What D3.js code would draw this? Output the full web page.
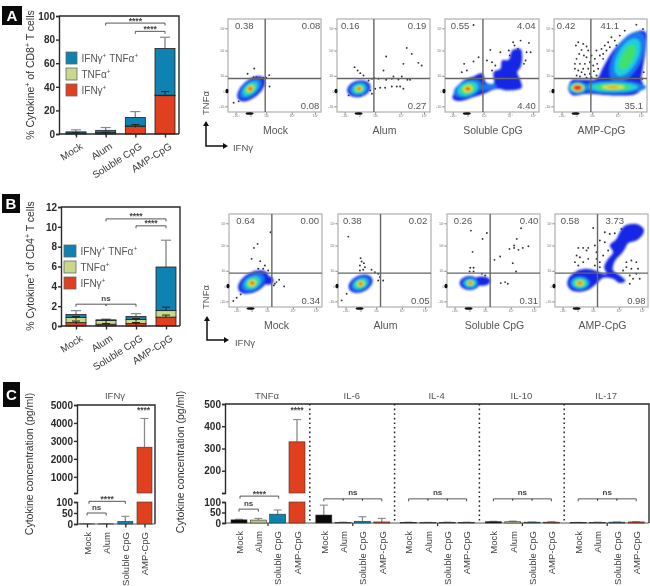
<!DOCTYPE html>
<html><head><meta charset="utf-8">
<script src="https://cdn.jsdelivr.net/npm/d3@7"></script>
<style>
html,body{margin:0;padding:0;background:#fff}
svg{display:block;font-family:"Liberation Sans",Arial,sans-serif;filter:blur(0.5px)}
</style></head><body>
<div id="chart"></div>
<script>
// ---------- bar data ----------
const categories = ["Mock","Alum","Soluble CpG","AMP-CpG"];
const cd8Ifn = [0.5,0.8,6.5,32.5];
const cd8Tnf = [0.3,0.3,0.3,0.4];
const cd8Both = [1,2,7.2,39.6];
const cd8IfnErr = [1,1.5,8,36];
const cd8BothErr = [3.5,5.5,19,82];
const cd4Ifn = [0.35,0.18,0.25,0.9];
const cd4Tnf = [0.5,0.37,0.4,0.65];
const cd4Both = [0.3,0.07,0.3,4.4];
const cd4IfnErr = [0.5,0.25,0.35,1.1];
const cd4TnfErr = [0.95,0.6,0.75,1.9];
const cd4BothErr = [1.55,0.7,1.25,8.65];
const ifnGroup = "IFNγ";
const ifnValues = [0.5,1,12,2650];
const ifnErr = [1,2,35,4250];
const cytokineGroups = ["TNFα","IL-6","IL-4","IL-10","IL-17"];
const cytokineValues = [[15,14,42,330],[38,2,8,5],[3,2,3,3],[6,6,4,4],[2,3,4,5]];
const cytokineErr = [[18,22,62,430],[85,4,30,22],[4,3,4,4],[8,9,5,6],[3,4,5,6]];
const flowTickLabels = ["-10³","0","10³","10⁴","10⁵"];
const flowTickX = [23,67,115,192,262];
const flowTickY = [17,63,109,185,252];

// ---------- flow cytometry data, in channel units 0-280 (x right, y up) ----------
const flowA = [
 {name:"Mock", q:[["0.38",49],["0.08",250],["0.08",247]], gate:[112,101],
  poly:[],
  layers:[[70,70,50,27,40,0],[68,70,40,21,40,1],[67,70,28,16,40,2],[67,70,19,12,40,3],[67,70,12,8,40,4],[67,70,8,6,30,5],[67,70,4,3.5,0,6]],
  dots:[[79,131],[59,115],[124,111],[125,77],[17,28],[32,32],[107,103],[115,103],[77,105],[85,105]]},
 {name:"Alum", q:[["0.16",40],["0.19",241],["0.27",241]], gate:[111,101],
  poly:[],
  layers:[[66,70,36,25,15,0],[66,70,29,20,15,1],[66,70,21,15,15,2],[66,70,15,11,15,3],[66,70,10,7,10,4],[66,70,7,5,0,5],[66,70,3.5,3,0,6]],
  dots:[[53,135],[62,125],[70,117],[80,110],[95,95],[105,100],[112,103],[125,100],[148,97],[165,100],[185,98],[212,97],[220,97],[195,107],[170,107],[140,125],[148,167],[210,193],[225,175],[200,145],[245,148],[255,140],[115,70],[130,73],[145,73],[165,77],[180,77],[190,77],[200,70],[100,65],[105,55],[70,50],[35,50]]},
 {name:"Soluble CpG", q:[["0.55",45],["4.04",242],["4.40",243]], gate:[113,101],
  poly:[[[23,40],[30,65],[55,95],[85,107],[110,117],[118,100],[120,90],[145,85],[145,120],[165,130],[170,155],[190,157],[200,185],[225,190],[230,165],[225,135],[215,120],[225,95],[228,73],[185,65],[155,70],[115,55],[85,45],[45,33]]],
  layers:[[68,70,44,24,20,1],[125,75,30,9,5,1],[68,70,32,20,20,2],[68,70,23,15,20,3],[68,70,14,10,15,4],[68,70,9,6,0,5],[68,70,5,3.5,0,6]],
  dots:[[85,262],[203,210],[207,200],[250,208],[225,215],[135,187],[165,180],[190,185],[193,170],[100,165],[85,152],[57,145],[50,120],[65,125],[125,155],[140,150],[150,140],[217,190],[255,180],[243,180],[235,145],[240,155],[140,125]]},
 {name:"AMP-CpG", q:[["0.42",36],["41.1",168],["35.1",240]], gate:[111,101],
  poly:[[[43,73],[53,95],[88,97],[128,100],[148,135],[178,185],[218,225],[258,245],[276,240],[278,205],[268,135],[263,100],[268,75],[248,55],[178,50],[98,55],[58,50],[46,60]]],
  layers:[[221,165,85,42,62,1],[221,165,62,30,62,2],[221,165,42,18,62,3],[178,75,100,19,0,1],[178,75,75,14,0,2],[178,75,55,11,0,3],[178,75,35,6,0,4],[178,75,18,3,0,5],
          [71,73,28,18,0,1],[71,73,25,15,0,2],[71,73,21,13,0,3],[71,73,17,11,0,4],[71,73,14,9,0,5],[71,73,10,6,0,6]],
  dots:[[73,210],[66,200],[88,205],[98,197],[83,187],[103,185],[76,175],[90,170],[68,160],[98,165],[113,170],[128,185],[143,190],[153,200],[163,210],[138,170],[123,160],[108,150],[78,145],[93,145],[63,130],[73,125],[88,130],[103,130],[118,140],[130,145],[148,160],[68,110],[78,107],[93,113],[108,115],[120,123],[133,130],[148,175],[168,195],[183,215],[198,230],[213,245],[248,263],[268,250],[188,200],[173,225],[158,185],[113,105],[98,103],[128,110],[63,145],[83,120],[258,120],[266,100],[263,85],[270,120]]}
];
const flowB = [
 {name:"Mock", q:[["0.64",50],["0.00",243],["0.34",246]], gate:[129,102],
  poly:[],
  layers:[[73,75,50,29,30,0],[118,80,16,13,0,0],[72,74,38,23,30,1],[71,73,26,18,30,2],[70,72,18,13,30,3],[70,72,12,9,20,4],[70,72,8,6,0,5],[70,72,4,3.5,0,6]],
  dots:[[125,225],[86,190],[75,178],[68,145],[94,138],[108,125],[103,115],[88,115],[118,110],[151,82],[138,70],[143,75],[135,65],[166,62],[13,18],[35,38],[23,28]]},
 {name:"Alum", q:[["0.38",43],["0.02",241],["0.05",248]], gate:[128,102],
  poly:[],
  layers:[[68,70,38,25,25,0],[68,70,31,20,25,1],[68,70,23,15,25,2],[68,70,16,11,20,3],[68,70,11,8,10,4],[68,70,7,5,0,5],[68,70,3.5,3,0,6]],
  dots:[[31,212],[68,147],[71,137],[78,132],[66,125],[81,120],[76,112],[66,110],[101,112],[111,105],[121,100],[126,90],[136,80],[121,80],[26,40],[11,20]]},
 {name:"Soluble CpG", q:[["0.26",48],["0.40",247],["0.31",246]], gate:[130,102],
  poly:[],
  layers:[[68,72,30,21,0,0],[105,78,26,14,0,0],[70,72,24,16,0,1],[70,72,18,12,0,2],[70,72,13,9,0,3],[70,72,9,6,0,4],[70,72,6,4,0,5],[70,72,3.5,2.5,0,6]],
  dots:[[72,230],[120,223],[107,205],[77,166],[223,237],[210,205],[202,185],[188,175],[202,178],[215,172],[228,178],[245,183],[160,152],[143,142],[198,132],[208,107],[70,118],[80,118],[68,107],[80,107],[105,100],[115,95],[162,72],[175,75],[183,70]]},
 {name:"AMP-CpG", q:[["0.58",45],["3.73",180],["0.98",245]], gate:[128,102],
  poly:[[[38,65],[40,85],[60,105],[90,115],[120,110],[145,100],[155,100],[148,120],[160,145],[175,165],[165,185],[185,205],[195,225],[210,245],[245,250],[267,235],[265,220],[245,200],[220,192],[210,175],[200,160],[185,145],[175,125],[175,110],[200,92],[212,78],[195,72],[175,85],[145,88],[125,70],[95,50],[55,48]]],
  layers:[[75,72,30,20,0,1],[75,72,24,16,0,2],[75,72,18,12,0,3],[75,72,12,8,0,4],[75,72,8,5,0,5],[75,72,4,2.8,0,6]],
  dots:[[70,178],[85,178],[100,178],[65,155],[75,150],[95,170],[120,185],[125,165],[135,200],[150,195],[165,220],[180,222],[200,235],[150,225],[115,238],[60,135],[70,125],[85,135],[100,145],[125,145],[135,135],[145,155],[160,170],[120,125],[135,120],[215,135],[230,140],[245,135],[215,120],[230,115],[205,110],[250,115],[235,85],[255,85],[225,70],[245,100],[225,95]]}
];

// ---------- styles ----------
const RED="#e0401e", GREEN="#c9d98c", BLUE="#0e82b0", INK="#2a2a2a", GREY="#555";
const heat=["#1226e6","#1a78f0","#1fd0dc","#3fe06a","#e8e63a","#f28a1e","#e4201c"];
const W=650,H=586;
const svg=d3.select("#chart").append("svg").attr("width",W).attr("height",H).attr("viewBox",`0 0 ${W} ${H}`);
const defs=svg.append("defs");
defs.append("filter").attr("id","soft").attr("x","-10%").attr("y","-10%").attr("width","120%").attr("height","120%")
  .append("feGaussianBlur").attr("stdDeviation",1.1);

function richText(sel,parts,size){
  let pending=0;
  parts.forEach(p=>{
    const sup=Array.isArray(p);
    const t=sel.append("tspan").attr("font-size",sup?size*0.65:size).text(sup?p[0]:p);
    const dy=sup?-size*0.35:pending;
    if(dy) t.attr("dy",dy);
    pending=sup?size*0.35:0;
  });
}
function panelTag(x,y,w,h,t){
  svg.append("rect").attr("x",x).attr("y",y).attr("width",w).attr("height",h).attr("fill","#0a0a0a");
  svg.append("text").attr("x",x+w/2).attr("y",y+h/2+5).attr("text-anchor","middle").attr("fill","#fff")
    .attr("font-size",15).attr("font-weight",700).text(t);
}
function styleAxis(g,fs){
  g.selectAll("path,line").attr("stroke",INK).attr("stroke-width",1.4);
  g.selectAll("text").attr("fill",INK).attr("font-size",fs).attr("font-weight",700).attr("font-family","inherit");
}
function bracket(x1,x2,y,label,mids){
  const g=svg.append("g");
  const pts=[[x1,y+2.5],[x1,y],[x2,y],[x2,y+2.5]];
  g.append("path").attr("d",d3.line()(pts)).attr("fill","none").attr("stroke","#444").attr("stroke-width",0.9);
  (mids||[]).forEach(m=>g.append("line").attr("x1",m).attr("x2",m).attr("y1",y).attr("y2",y+1.8).attr("stroke","#222").attr("stroke-width",1));
  g.append("text").attr("x",(x1+x2)/2).attr("y",label==="ns"?y-3.5:y+0.5).attr("text-anchor","middle")
    .attr("fill","#444").attr("font-size",label==="ns"?8:8.5).attr("font-weight",700).text(label);
}

// ---------- stacked bars (A, B) ----------
function stackedPanel(o){
  const x=d3.scalePoint().domain(categories).range(o.xr);
  const y=d3.scaleLinear().domain([0,o.max]).range([o.y0,o.y1]);
  const rows=categories.map((c,i)=>({c,ifn:o.ifn[i],tnf:o.tnf[i],both:o.both[i]}));
  const series=d3.stack().keys(["ifn","tnf","both"])(rows);
  const cols={ifn:RED,tnf:GREEN,both:BLUE};
  const bw=20;
  const g=svg.append("g");
  g.append("path").attr("d",d3.line()([[o.xl,o.y1],[o.xe,o.y1],[o.xe,o.y0]])).attr("fill","none").attr("stroke",INK).attr("stroke-width",1.4);
  g.selectAll(".eo").data(categories).join("g").each(function(c,i){
    const s=d3.select(this),cx=x(c),top=y(series[2][i][1]),e=y(o.bothErr[i]);
    s.append("line").attr("x1",cx).attr("x2",cx).attr("y1",top).attr("y2",e).attr("stroke","#8a8a8a").attr("stroke-width",1.4);
    s.append("line").attr("x1",cx-5).attr("x2",cx+5).attr("y1",e).attr("y2",e).attr("stroke","#8a8a8a").attr("stroke-width",1.2);
  });
  series.forEach(s=>{
    g.selectAll(null).data(s).join("rect")
      .attr("x",d=>x(d.data.c)-bw/2).attr("width",bw)
      .attr("y",d=>y(d[1])).attr("height",d=>y(d[0])-y(d[1]))
      .attr("fill",cols[s.key]).attr("stroke","#222").attr("stroke-width",0.8);
  });
  o.innerErr.forEach(err=>{
    g.selectAll(null).data(categories).join("path")
      .attr("d",(c,i)=>{const cx=x(c),e=y(err[i]);return `M${cx-4},${e}H${cx+4}M${cx},${e}V${e+3}`;})
      .attr("fill","none").attr("stroke","#222").attr("stroke-width",1);
  });
  const ax=g.append("g").attr("transform",`translate(${o.xl},0)`).call(d3.axisLeft(y).tickValues(o.ticks).tickSize(3).tickPadding(1));
  styleAxis(ax,10);
  const bx=g.append("g").attr("transform",`translate(0,${o.y0})`).call(d3.axisBottom(x).tickSize(3.5));
  styleAxis(bx,10);
  bx.select(".domain").attr("d",`M${o.xl},0H${o.xe}`);
  bx.selectAll("text").attr("x",0).attr("y",0).attr("dy","0.35em").attr("font-weight",400).attr("fill","#3a3a3a").attr("text-anchor","end")
    .attr("transform","translate(5,11) rotate(-33)");
  const keys=[["both",[ "IFNγ",["+"]," TNFα",["+"] ]],["tnf",["TNFα",["+"]]],["ifn",["IFNγ",["+"]]]];
  keys.forEach((k,i)=>{
    const yy=o.legY[i];
    g.append("rect").attr("x",o.legX).attr("y",yy).attr("width",o.legW).attr("height",o.legH).attr("fill",cols[k[0]]).attr("stroke","#666").attr("stroke-width",0.8);
    const t=g.append("text").attr("x",o.legX+o.legW+4.5).attr("y",yy+o.legH/2+3.5).attr("fill",GREY);
    richText(t,k[1],10);
  });
  const yl=svg.append("text").attr("transform",`translate(${o.labX},${o.labY}) rotate(-90)`).attr("text-anchor","middle").attr("fill","#333");
  richText(yl,o.lab,10.5);
  return {x,y};
}
const a=stackedPanel({xr:[76,165],xl:59,xe:179,y0:134,y1:16,max:100,ticks:d3.range(0,101,20),ifn:cd8Ifn,tnf:cd8Tnf,both:cd8Both,
  bothErr:cd8BothErr,innerErr:[cd8IfnErr],legX:66,legY:[52,68,84],legW:11,legH:12,labX:34,labY:75,
  lab:["% Cytokine",["+"]," of CD8",["+"]," T cells"]});
bracket(a.x("Alum"),a.x("AMP-CpG"),a.y(94),"****");
bracket(a.x("Soluble CpG"),a.x("AMP-CpG"),a.y(87),"****");
const b=stackedPanel({xr:[76,166],xl:61,xe:180,y0:326,y1:207,max:12,ticks:d3.range(0,13,2),ifn:cd4Ifn,tnf:cd4Tnf,both:cd4Both,
  bothErr:cd4BothErr,innerErr:[cd4IfnErr,cd4TnfErr],legX:64,legY:[245,261,277],legW:12,legH:12,labX:34,labY:266,
  lab:["% Cytokine",["+"]," of CD4",["+"]," T cells"]});
bracket(b.x("Alum"),b.x("AMP-CpG"),b.y(10.8),"****");
bracket(b.x("Soluble CpG"),b.x("AMP-CpG"),b.y(10.1),"****");
bracket(b.x("Mock"),b.x("Soluble CpG"),b.y(2.2),"ns",[b.x("Alum")]);

// ---------- flow plots ----------
let clipId=0;
function flowPanel(d,left,top,right,bottom,labelY,yLabUL,yLabLR){
  const x=d3.scaleLinear().domain([0,280]).range([left,right]);
  const y=d3.scaleLinear().domain([0,280]).range([bottom,top]);
  const k=(right-left)/280;
  const id="clip"+(clipId++);
  defs.append("clipPath").attr("id",id).append("rect").attr("x",left).attr("y",top).attr("width",right-left).attr("height",bottom-top);
  const g=svg.append("g");
  g.append("rect").attr("x",left).attr("y",top).attr("width",right-left).attr("height",bottom-top).attr("fill","#fff").attr("stroke","#b5b5b5").attr("stroke-width",1.3);
  const inner=g.append("g").attr("clip-path",`url(#${id})`);
  inner.selectAll("circle").data(d.dots).join("circle").attr("cx",p=>x(p[0])).attr("cy",p=>y(p[1])).attr("r",0.95).attr("fill","#333");
  const blob=inner.append("g").attr("filter","url(#soft)");
  const area=d3.line().x(p=>x(p[0])).y(p=>y(p[1])).curve(d3.curveCatmullRomClosed.alpha(0.5));
  blob.selectAll("path").data(d.poly).join("path").attr("d",area).attr("fill",heat[0]);
  d.layers.forEach(l=>{
    blob.append("ellipse").attr("cx",0).attr("cy",0).attr("rx",l[2]*k).attr("ry",l[3]*k)
      .attr("transform",`translate(${x(l[0])},${y(l[1])}) rotate(${-l[4]})`).attr("fill",heat[l[5]]);
  });
  g.append("line").attr("x1",x(d.gate[0])).attr("x2",x(d.gate[0])).attr("y1",top).attr("y2",bottom).attr("stroke","#666").attr("stroke-width",1.4);
  g.append("line").attr("x1",left).attr("x2",right).attr("y1",y(d.gate[1])).attr("y2",y(d.gate[1])).attr("stroke","#666").attr("stroke-width",1.4);
  const q=[[d.q[0],yLabUL],[d.q[1],yLabUL],[d.q[2],yLabLR]];
  q.forEach(([t,yy])=>g.append("text").attr("x",x(t[1])).attr("y",y(yy)).attr("text-anchor","middle").attr("fill",GREY).attr("font-size",9.5).text(t[0]));
  const fmt=(v,i)=>flowTickLabels[i];
  const ax=g.append("g").attr("transform",`translate(${left-0.5},0)`).call(d3.axisLeft(y).tickValues(flowTickY).tickFormat(fmt).tickSize(2).tickPadding(0));
  const bx=g.append("g").attr("transform",`translate(0,${bottom+0.5})`).call(d3.axisBottom(x).tickValues(flowTickX).tickFormat(fmt).tickSize(2).tickPadding(0));
  [ax,bx].forEach(s=>{s.select(".domain").remove();s.selectAll("line").attr("stroke","#666").attr("stroke-width",0.8);
    s.selectAll("text").attr("font-size",3.6).attr("fill","#777").attr("font-family","inherit");});
  g.append("ellipse").attr("cx",left-1).attr("cy",y(flowTickY[1])).attr("rx",1.5).attr("ry",2.4).attr("fill","#111");
  g.append("ellipse").attr("cx",x(flowTickX[1]-2)).attr("cy",bottom+1.5).attr("rx",4).attr("ry",1.3).attr("fill","#111");
  g.append("text").attr("x",(left+right)/2+1).attr("y",labelY).attr("text-anchor","middle").attr("fill",GREY).attr("font-size",10.5).text(d.name);
}
[[228,321],[337,430],[445,539],[554,647]].forEach((p,i)=>flowPanel(flowA[i],p[0],19,p[1],112,134,249,10));
[[229,322],[338,431],[447,540],[555,648]].forEach((p,i)=>flowPanel(flowB[i],p[0],214,p[1],307,329,250,8));

function arrows(cx,cy,topY,rightX,tx,ty,ix,iy){
  const c="#111";
  svg.append("path").attr("d",d3.line()([[cx,topY+3],[cx,cy],[rightX-3,cy]])).attr("fill","none").attr("stroke",c).attr("stroke-width",1.5);
  svg.append("path").attr("d",`M${cx},${topY}l-3,5h6zM${rightX},${cy}l-5,-3v6z`).attr("fill",c);
  svg.append("text").attr("transform",`translate(${tx},${ty}) rotate(-90)`).attr("text-anchor","middle").attr("fill",GREY).attr("font-size",9.5).text("TNFα");
  svg.append("text").attr("x",ix).attr("y",iy).attr("text-anchor","middle").attr("fill",GREY).attr("font-size",9.5).text("IFNγ");
}
arrows(206,146,121,228,209,103,243,151);
arrows(207,340,316,229,209,297,245,346);

// ---------- cytokine bars (C) ----------
const barCol=["#0a0a0a","#bfc58a",BLUE,RED];
function brokenY(x0,xEnd,top,breakHi,breakLo,zero,upperMax,upperTicks){
  const yU=d3.scaleLinear().domain([100,upperMax]).range([breakHi,top]);
  const yL=d3.scaleLinear().domain([0,100]).range([zero,breakLo]);
  const g=svg.append("g");
  g.append("path").attr("d",d3.line()([[x0,top],[xEnd,top],[xEnd,zero]])).attr("fill","none").attr("stroke",INK).attr("stroke-width",1.4);
  g.append("line").attr("x1",x0).attr("x2",xEnd).attr("y1",zero).attr("y2",zero).attr("stroke","#555").attr("stroke-width",1.2);
  const au=g.append("g").attr("transform",`translate(${x0},0)`).call(d3.axisLeft(yU).tickValues(upperTicks).tickSize(3).tickPadding(1).tickFormat(v=>v===100?"":v));
  const al=g.append("g").attr("transform",`translate(${x0},0)`).call(d3.axisLeft(yL).tickValues([0,50,100]).tickSize(3).tickPadding(1));
  styleAxis(au,10);styleAxis(al,10);
  return {yU,yL};
}
function drawBars(x,vals,errs,ys,bw){
  const {yU,yL}=ys;
  const py=v=>v<=100?yL(v):yU(v);
  categories.forEach((c,i)=>{
    const v=vals[i],e=errs[i],cx=x(c);
    svg.append("line").attr("x1",cx).attr("x2",cx).attr("y1",py(v)).attr("y2",py(e)).attr("stroke","#8a8a8a").attr("stroke-width",1.3);
    svg.append("line").attr("x1",cx-4).attr("x2",cx+4).attr("y1",py(e)).attr("y2",py(e)).attr("stroke","#8a8a8a").attr("stroke-width",1.1);
    const lowTop=Math.min(v,100);
    svg.append("rect").attr("x",cx-bw/2).attr("width",bw).attr("y",yL(lowTop)).attr("height",yL(0)-yL(lowTop))
      .attr("fill",barCol[i]).attr("stroke","#333").attr("stroke-width",0.6);
    if(v>100) svg.append("rect").attr("x",cx-bw/2).attr("width",bw).attr("y",yU(v)).attr("height",yU(100)-yU(v))
      .attr("fill",barCol[i]).attr("stroke","#333").attr("stroke-width",0.6);
  });
}
function catLabels(x,zero,ticks){
  const ax=svg.append("g").attr("transform",`translate(0,${zero})`).call(d3.axisBottom(x).tickSize(ticks?3.5:0));
  ax.select(".domain").remove();
  ax.selectAll("line").attr("stroke",INK).attr("stroke-width",1.3);
  ax.selectAll("text").attr("font-size",9.5).attr("fill","#444").attr("font-family","inherit").attr("x",0).attr("y",0).attr("dy","0.35em")
    .attr("text-anchor","end").attr("transform","translate(0,8) rotate(-90)");
}
// IFNγ
const ysI=brokenY(77,155,405,493,502,524,5000,[100,1000,2000,3000,4000,5000]);
const xI=d3.scalePoint().domain(categories).range([87,144.5]);
drawBars(xI,ifnValues,ifnErr,ysI,15);
catLabels(xI,524,true);
svg.append("text").attr("x",115).attr("y",399).attr("text-anchor","middle").attr("fill",GREY).attr("font-size",9.5).text(ifnGroup);
bracket(xI("Mock"),xI("Alum"),ysI.yL(50),"ns");
bracket(xI("Mock")+2,xI("Soluble CpG"),ysI.yL(103),"****");
svg.append("text").attr("x",xI("AMP-CpG")-1).attr("y",413).attr("text-anchor","middle").attr("fill","#444").attr("font-size",8.5).attr("font-weight",700).text("****");
svg.append("text").attr("transform","translate(33,464) rotate(-90)").attr("text-anchor","middle").attr("fill","#333").attr("font-size",10.5).text("Cytokine concentration (pg/ml)");
// other cytokines
const ysC=brokenY(225,649,404,493,502,523,500,[100,200,300,400,500]);
const groupX=d3.scaleBand().domain(cytokineGroups).range([225,649]);
cytokineGroups.forEach((gname,gi)=>{
  const g0=groupX(gname);
  const x=d3.scalePoint().domain(categories).range([g0+14,g0+72]);
  drawBars(x,cytokineValues[gi],cytokineErr[gi],ysC,16);
  catLabels(x,523,false);
  svg.append("text").attr("x",g0+42).attr("y",399).attr("text-anchor","middle").attr("fill",GREY).attr("font-size",9.5).text(gname);
  svg.append("line").attr("x1",g0+43).attr("x2",g0+43).attr("y1",523).attr("y2",526).attr("stroke",INK).attr("stroke-width",1.2);
  if(gi>0){
    svg.append("line").attr("x1",g0).attr("x2",g0).attr("y1",404).attr("y2",521).attr("stroke","#222").attr("stroke-width",1.5).attr("stroke-dasharray","1.6,3");
    bracket(x("Mock"),x("AMP-CpG"),ysC.yL(115),"ns",[x("Alum"),x("Soluble CpG")]);
  } else {
    bracket(x("Mock"),x("Alum"),ysC.yL(66),"ns");
    bracket(x("Mock")+1,x("Soluble CpG")+1,ysC.yL(128),"****");
    svg.append("text").attr("x",x("AMP-CpG")).attr("y",413).attr("text-anchor","middle").attr("fill","#444").attr("font-size",8.5).attr("font-weight",700).text("****");
  }
});
svg.append("text").attr("transform","translate(184,462) rotate(-90)").attr("text-anchor","middle").attr("fill","#333").attr("font-size",10.5).text("Cytokine concentration (pg/ml)");

panelTag(2,6,20,19,"A");
panelTag(2,194,18,19,"B");
panelTag(3,382,17,25,"C");
</script>
</body></html>
